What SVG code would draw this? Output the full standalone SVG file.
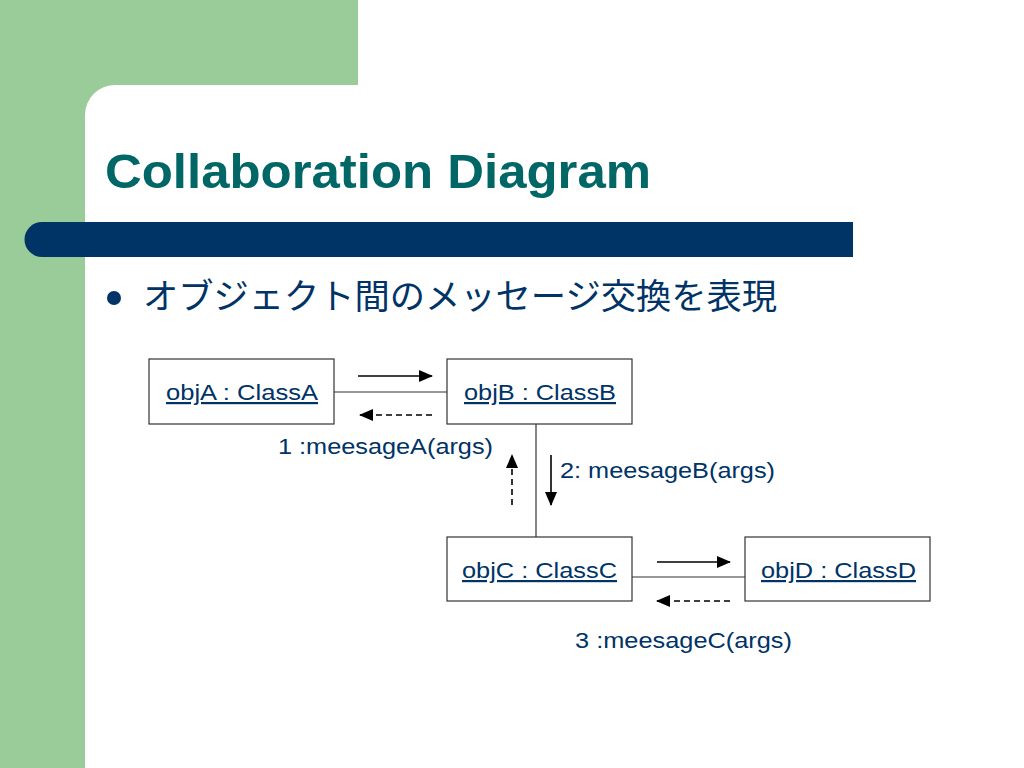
<svg xmlns="http://www.w3.org/2000/svg" width="1024" height="768" viewBox="0 0 1024 768">
<defs>
<marker id="ah" markerWidth="14" markerHeight="12" refX="13" refY="6" orient="auto" markerUnits="userSpaceOnUse" viewBox="0 0 14 12">
<path d="M0,0 L14,6 L0,12 z" fill="#000"/>
</marker>
<style>
.box{fill:#fff;stroke:#333;stroke-width:1.2}
.lbl{font-family:"Liberation Sans",Arial,sans-serif;font-size:22px;fill:#003366}
.u{text-decoration:underline}
.link{stroke:#333;stroke-width:1.2;fill:none}
.msg{stroke:#000;stroke-width:1.6;fill:none}
.dash{stroke-dasharray:6,4}
</style>
</defs>
<rect width="1024" height="768" fill="#fff"/>
<rect x="0" y="0" width="358" height="85" fill="#99cc99"/>
<rect x="0" y="0" width="85" height="768" fill="#99cc99"/>
<path d="M85,85 L115,85 A30,30 0 0 0 85,115 Z" fill="#99cc99"/>
<path d="M42,222 L853,222 L853,257 L42,257 A17.5,17.5 0 0 1 42,222 Z" fill="#003366"/>
<text x="105" y="188" font-family="Liberation Sans,Arial,sans-serif" font-weight="bold" font-size="49" fill="#006666" textLength="546" lengthAdjust="spacingAndGlyphs">Collaboration Diagram</text>
<circle cx="114" cy="298" r="7" fill="#003366"/>
<text x="143" y="309" font-family="Liberation Sans,'Noto Sans CJK JP',sans-serif" font-size="35" fill="#003366" textLength="634" lengthAdjust="spacingAndGlyphs">オブジェクト間のメッセージ交換を表現</text>
<g id="connectors">
<line class="link" x1="334" y1="392" x2="447" y2="392"/>
<line class="link" x1="536" y1="424" x2="536" y2="537"/>
<line class="link" x1="632" y1="577" x2="745" y2="577"/>
<line class="msg" x1="358" y1="376" x2="432" y2="376" marker-end="url(#ah)"/>
<line class="msg dash" x1="432" y1="415" x2="360" y2="415" marker-end="url(#ah)"/>
<line class="msg" x1="551" y1="455" x2="551" y2="505" marker-end="url(#ah)"/>
<line class="msg dash" x1="512" y1="505" x2="512" y2="455" marker-end="url(#ah)"/>
<line class="msg" x1="657" y1="562" x2="730" y2="562" marker-end="url(#ah)"/>
<line class="msg dash" x1="730" y1="601" x2="657" y2="601" marker-end="url(#ah)"/>
<text class="lbl" x="278" y="454" textLength="215" lengthAdjust="spacingAndGlyphs">1 :meesageA(args)</text>
<text class="lbl" x="560" y="478" textLength="215" lengthAdjust="spacingAndGlyphs">2: meesageB(args)</text>
<text class="lbl" x="575" y="648" textLength="217" lengthAdjust="spacingAndGlyphs">3 :meesageC(args)</text>
</g>
<g id="objA">
<rect class="box" x="149" y="359" width="185" height="65"/>
<text class="lbl u" x="166" y="400" textLength="152" lengthAdjust="spacingAndGlyphs">objA : ClassA</text>
</g>
<g id="objB">
<rect class="box" x="447" y="359" width="185" height="65"/>
<text class="lbl u" x="464" y="400" textLength="152" lengthAdjust="spacingAndGlyphs">objB : ClassB</text>
</g>
<g id="objC">
<rect class="box" x="447" y="537" width="185" height="64"/>
<text class="lbl u" x="462" y="578" textLength="155" lengthAdjust="spacingAndGlyphs">objC : ClassC</text>
</g>
<g id="objD">
<rect class="box" x="745" y="537" width="185" height="64"/>
<text class="lbl u" x="761" y="578" textLength="155" lengthAdjust="spacingAndGlyphs">objD : ClassD</text>
</g>
</svg>
